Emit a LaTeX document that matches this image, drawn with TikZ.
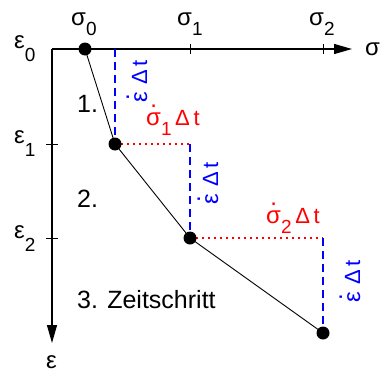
\documentclass[tikz,border=0pt]{standalone}
\usepackage{fontspec}
\setmainfont{Liberation Sans}
\usetikzlibrary{arrows.meta}
\newcommand{\gk}[1]{{\fontsize{24}{24}\selectfont #1}}
\newcommand{\lsub}[2][10pt]{\raisebox{-#1}{\fontsize{19}{19}\selectfont #2}}
\newcommand{\dotacc}[1]{\ooalign{\hidewidth\smash{\raisebox{18pt}{\gk{.}}}\hidewidth\cr#1\cr}}
\tikzset{
  axis/.style={line width=1.3pt, -{Triangle[length=18pt,width=10pt]}},
  tick/.style={line width=1pt},
  path/.style={line width=0.9pt},
  bdash/.style={blue, line width=1.2pt, dash pattern=on 8pt off 5pt},
  rdot/.style={red, line width=1.6pt, dash pattern=on 1.8pt off 4.2pt},
  pt/.style={circle, fill=black, inner sep=0pt, minimum size=13pt},
  lab/.style={inner sep=0pt, anchor=base west, font=\fontsize{22}{22}\selectfont},
  big/.style={inner sep=0pt, anchor=base west, font=\fontsize{25}{25}\selectfont},
}
\begin{document}
\begin{tikzpicture}[x=1pt,y=-1pt]
\useasboundingbox (0,0) rectangle (380,372);
% coordinates
\coordinate (O) at (52,49);
\coordinate (xe) at (352,49);
\coordinate (ye) at (52,343);
\coordinate (P0) at (85,49);
\coordinate (P1) at (115,144);
\coordinate (P2) at (190,238);
\coordinate (P3) at (323,333);
\coordinate (A1) at (115,49);
\coordinate (C1) at (190,144);
\coordinate (C2) at (323,238);
\coordinate (T1) at (190,49);
\coordinate (T2) at (323,49);
\coordinate (E1) at (52,144);
\coordinate (E2) at (52,238);
% axes
\draw[axis] (O) -- (xe);
\draw[axis] (O) -- (ye);
\draw[tick] (T1) ++(0,-5) -- ++(0,10);
\draw[tick] (T2) ++(0,-5) -- ++(0,10);
\draw[tick] (E1) ++(-6,0) -- ++(12,0);
\draw[tick] (E2) ++(-6,0) -- ++(12,0);
% helper lines
\draw[bdash] (A1) -- (P1);
\draw[rdot] (P1) -- (C1);
\draw[bdash] (C1) -- (P2);
\draw[rdot] (P2) -- (C2);
\draw[bdash] (C2) -- (P3);
% path
\draw[path] (P0) -- (P1) -- (P2) -- (P3);
\node[pt] (p0) at (P0) {};
\node[pt] (p1) at (P1) {};
\node[pt] (p2) at (P2) {};
\node[pt] (p3) at (P3) {};
% axis labels
\node[lab] (s0) at (71,25) {\gk{σ}\lsub{0}};
\node[lab] (s1) at (177,25) {\gk{σ}\lsub{1}};
\node[lab] (s2) at (309,25) {\gk{σ}\lsub{2}};
\node[lab] (sx) at (365,55) {\gk{σ}};
\node[lab] (e0) at (14,48) {\gk{ε}\lsub[13.5pt]{0}};
\node[lab] (e1) at (14,143) {\gk{ε}\lsub[13.5pt]{1}};
\node[lab] (e2) at (14,238) {\gk{ε}\lsub[13.5pt]{2}};
\node[lab] (ey) at (46,368) {\gk{ε}};
% step labels
\node[big] (n1) at (77,112) {1.};
\node[big] (n2) at (77,207) {2.};
\node[big] (n3) at (77,308) {3. Zeitschritt};
% increments
\node[lab, red] (r1) at (146,125) {\dotacc{\gk{σ}}\lsub{1}\,Δ\,t};
\node[lab, red] (r2) at (266,223) {\dotacc{\gk{σ}}\lsub{2}\,Δ\,t};
\node[lab, blue, rotate=90] (b1) at (147,103) {\dotacc{\gk{ε}}\,\,Δ\,t};
\node[lab, blue, rotate=90] (b2) at (218,205) {\dotacc{\gk{ε}}\,\,Δ\,t};
\node[lab, blue, rotate=90] (b3) at (360,303) {\dotacc{\gk{ε}}\,\,Δ\,t};
\end{tikzpicture}
\end{document}
